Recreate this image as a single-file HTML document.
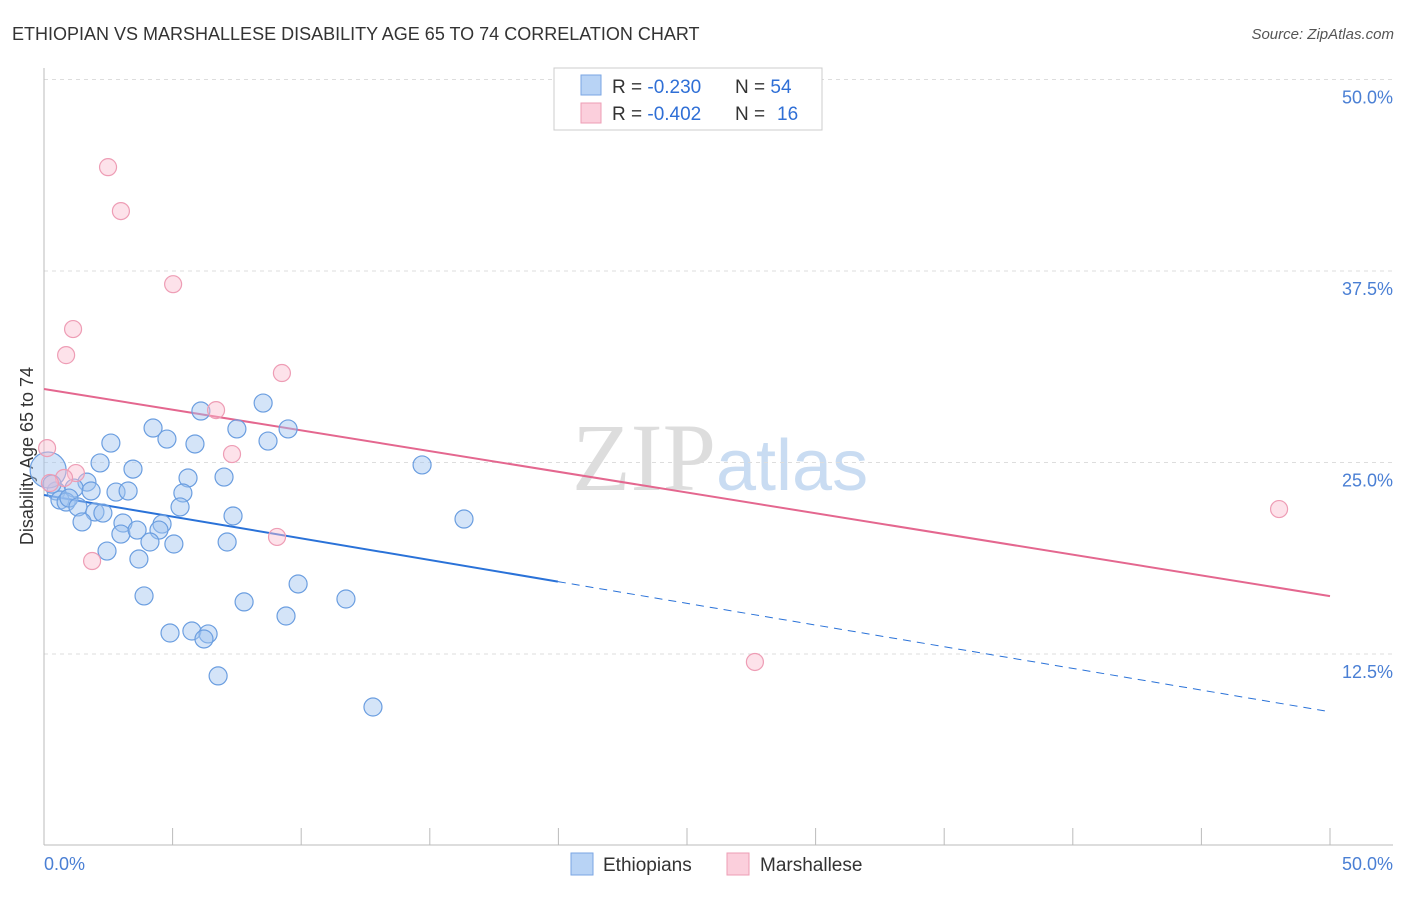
<!DOCTYPE html>
<html><head><meta charset="utf-8"><style>
body{margin:0;background:#fff;font-family:"Liberation Sans",sans-serif}
</style></head><body>
<svg width="1406" height="892" xmlns="http://www.w3.org/2000/svg" id="chart" font-family="Liberation Sans, sans-serif">
<text x="12" y="40" font-size="18" fill="#333">ETHIOPIAN VS MARSHALLESE DISABILITY AGE 65 TO 74 CORRELATION CHART</text>
<text x="1394" y="39" font-size="15" fill="#555" font-style="italic" text-anchor="end">Source: ZipAtlas.com</text>
<text x="716" y="490" font-size="96" fill="#ddd" font-family="Liberation Serif, serif" text-anchor="end">ZIP</text>
<text x="716" y="490" font-size="72" fill="#c9dcf2">atlas</text>
<g id="grid"></g>
<line x1="44" y1="68" x2="44" y2="845" stroke="#bbb"/>
<line x1="44" y1="845" x2="1393" y2="845" stroke="#bbb"/>
<text transform="translate(33,456) rotate(-90)" font-size="18" fill="#333" text-anchor="middle">Disability Age 65 to 74</text>
<text x="44" y="870" font-size="18" fill="#4a7fd4">0.0%</text>
<text x="1393" y="870" font-size="18" fill="#4a7fd4" text-anchor="end">50.0%</text>
<g id="lines"></g>
<g id="pts"></g>
<g>
<rect x="554" y="68" width="268" height="62" fill="#fff" stroke="#ccc"/>
<rect x="581" y="75" width="20" height="20" fill="#b8d3f5" stroke="#7aa6e3"/>
<rect x="581" y="103" width="20" height="20" fill="#fbcfdc" stroke="#ee9db5"/>
<text x="612" y="93" font-size="19" fill="#333">R = <tspan fill="#2f6fd6">-0.230</tspan></text>
<text x="735" y="93" font-size="19" fill="#333">N = <tspan fill="#2f6fd6">54</tspan></text>
<text x="612" y="120" font-size="19" fill="#333">R = <tspan fill="#2f6fd6">-0.402</tspan></text>
<text x="735" y="120" font-size="19" fill="#333">N = <tspan x="777" fill="#2f6fd6">16</tspan></text>
</g>
<g>
<rect x="571" y="853" width="22" height="22" fill="#b8d3f5" stroke="#7aa6e3"/>
<text x="603" y="871" font-size="19" fill="#333">Ethiopians</text>
<rect x="727" y="853" width="22" height="22" fill="#fbcfdc" stroke="#ee9db5"/>
<text x="760" y="871" font-size="19" fill="#333">Marshallese</text>
</g>
</svg>
<script>
const yTicks=[12.5,25,37.5,50];
const yTickLabels=["12.5%","25.0%","37.5%","50.0%"];
const xTicks=[0,5,10,15,20,25,30,35,40,45,50];
const ethX=[6.10,8.52,4.24,7.50,9.49,4.78,2.60,5.87,8.71,2.18,3.46,14.70,5.60,7.00,1.67,1.17,2.80,3.27,5.40,1.83,0.47,0.62,0.86,0.97,1.32,1.98,2.29,5.29,7.35,16.33,1.48,3.07,4.59,2.99,3.62,4.47,4.12,5.05,7.12,2.45,3.69,9.88,3.89,7.78,11.74,9.41,4.90,5.75,6.38,6.22,6.77,12.79,0.16,0.31];
const ethY=[28.36,28.88,27.25,27.19,27.19,26.53,26.27,26.21,26.40,24.97,24.57,24.84,23.99,24.05,23.72,23.33,23.07,23.14,23.01,23.14,23.14,22.55,22.42,22.68,22.10,21.77,21.70,22.10,21.51,21.31,21.12,21.05,20.98,20.33,20.59,20.59,19.81,19.68,19.81,19.22,18.70,17.07,16.29,15.90,16.09,14.98,13.87,14.00,13.81,13.48,11.07,9.04,24.51,23.59];
const marX=[2.49,2.99,5.02,1.13,0.86,9.25,6.69,7.31,0.12,1.24,0.78,9.06,1.87,27.64,48.02,0.23];
const marY=[44.28,41.41,36.64,33.71,32.01,30.84,28.42,25.55,25.94,24.31,23.99,20.14,18.57,11.98,21.96,23.66];
const ethTrend=[22.88,8.73]; const ethSolidEnd=19.98;
const marTrend=[29.80,16.28];
const NS="http://www.w3.org/2000/svg";
const sx=v=>44+v/50*1286, sy=v=>845.5-v/12.5*191.5;
function mk(t,a,p){const e=document.createElementNS(NS,t);for(const k in a)e.setAttribute(k,a[k]);p.appendChild(e);return e;}
const grid=document.getElementById('grid');
yTicks.forEach((v,i)=>{
 const l=mk('line',{x1:44,x2:1393,y1:sy(v),y2:sy(v),stroke:'#ddd','stroke-dasharray':'4,4'},grid);
 
 
 const t=mk('text',{x:1393,y:sy(v)+24,'font-size':18,fill:'#4a7fd4','text-anchor':'end'},grid);
 t.textContent=yTickLabels[i];
 
 
});
xTicks.forEach(v=>{
 const l=mk('line',{x1:sx(v),x2:sx(v),y1:828,y2:845,stroke:'#bbb'},grid);
 
 
});
const pts=document.getElementById('pts');
ethX.forEach((x,i)=>{
 const c=mk('circle',{cx:sx(x),cy:sy(ethY[i]),r:i==52?18:9,fill:'rgba(160,196,240,0.45)',stroke:'#6b9ee0','stroke-width':1.2},pts);
 
 
});
marX.forEach((x,i)=>{
 const c=mk('circle',{cx:sx(x),cy:sy(marY[i]),r:8.5,fill:'rgba(250,190,208,0.45)',stroke:'#ee9db5','stroke-width':1.2},pts);
 
 
});
const lines=document.getElementById('lines');
const ey=x=>ethTrend[0]+(ethTrend[1]-ethTrend[0])*x/50;
let l1=mk('line',{x1:sx(0),y1:sy(ey(0)),x2:sx(ethSolidEnd),y2:sy(ey(ethSolidEnd)),stroke:'#2a72d8','stroke-width':2},lines);


let l2=mk('line',{x1:sx(ethSolidEnd),y1:sy(ey(ethSolidEnd)),x2:sx(49.8),y2:sy(ey(49.8)),stroke:'#2a72d8','stroke-width':1,'stroke-dasharray':'8,6'},lines);


let l3=mk('line',{x1:sx(0),y1:sy(marTrend[0]),x2:sx(50),y2:sy(marTrend[1]),stroke:'#e4678f','stroke-width':2},lines);


</script>
</body></html>
